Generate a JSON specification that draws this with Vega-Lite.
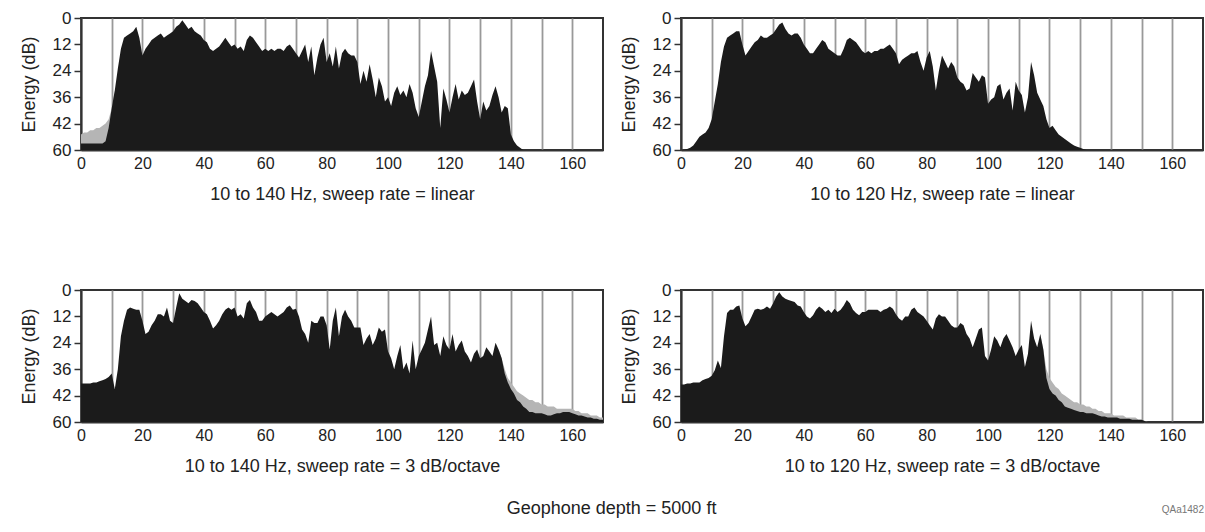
{
  "$schema": "https://vega.github.io/schema/vega-lite/v6.json",
  "background": "white",
  "padding": {"left": 19, "top": 8, "right": 0, "bottom": 0},
  "title": {"text": "QAa1482", "orient": "bottom", "anchor": "end", "fontSize": 10, "fontWeight": "normal", "color": "#777", "font": "Liberation Sans", "offset": -13},
  "config": {
    "font": "Liberation Sans",
    "view": {"stroke": "#333", "strokeWidth": 2},
    "axisX": {
      "ticks": false, "grid": true, "gridColor": "#999", "gridWidth": 1.8, "zindex": 1,
      "domainColor": "#333", "domainWidth": 2,
      "labelFontSize": 16, "labelColor": "#222", "labelPadding": 5, "labelFlush": false, "labelOverlap": false,
      "titleFontSize": 18, "titleFontWeight": "normal", "titleColor": "#222", "titlePadding": 14
    },
    "axisY": {
      "grid": false, "ticks": true, "tickSize": 7, "tickColor": "#333", "tickWidth": 1.5,
      "domainColor": "#333", "domainWidth": 2,
      "labelFontSize": 17, "labelColor": "#222", "labelPadding": 3, "labelFlush": false, "labelOverlap": false,
      "titleFontSize": 18, "titleFontWeight": "normal", "titleColor": "#222", "titlePadding": 14
    }
  },
  "datasets": {
    "p1": [{"f":0,"e":57},{"f":1,"e":57},{"f":2,"e":57},{"f":3,"e":57},{"f":4,"e":57},{"f":5,"e":57},{"f":6,"e":57},{"f":7,"e":57},{"f":8,"e":56},{"f":9,"e":50},{"f":10,"e":41},{"f":11,"e":33},{"f":12,"e":23},{"f":13,"e":14},{"f":14,"e":9},{"f":15,"e":8},{"f":16,"e":7},{"f":17,"e":6},{"f":18,"e":4},{"f":19,"e":9},{"f":20,"e":17},{"f":21,"e":14},{"f":22,"e":12},{"f":23,"e":10},{"f":24,"e":9},{"f":25,"e":8},{"f":26,"e":7},{"f":27,"e":9},{"f":28,"e":8},{"f":29,"e":7},{"f":30,"e":6},{"f":31,"e":4},{"f":32,"e":3},{"f":33,"e":1},{"f":34,"e":3},{"f":35,"e":5},{"f":36,"e":4},{"f":37,"e":6},{"f":38,"e":7},{"f":39,"e":8},{"f":40,"e":10},{"f":41,"e":11},{"f":42,"e":14},{"f":43,"e":15},{"f":44,"e":14},{"f":45,"e":13},{"f":46,"e":11},{"f":47,"e":9},{"f":48,"e":11},{"f":49,"e":13},{"f":50,"e":12},{"f":51,"e":14},{"f":52,"e":13},{"f":53,"e":15},{"f":54,"e":10},{"f":55,"e":8},{"f":56,"e":9},{"f":57,"e":11},{"f":58,"e":13},{"f":59,"e":15},{"f":60,"e":14},{"f":61,"e":15},{"f":62,"e":14},{"f":63,"e":15},{"f":64,"e":14},{"f":65,"e":14},{"f":66,"e":15},{"f":67,"e":13},{"f":68,"e":12},{"f":69,"e":14},{"f":70,"e":16},{"f":71,"e":18},{"f":72,"e":15},{"f":73,"e":12},{"f":74,"e":20},{"f":75,"e":13},{"f":76,"e":26},{"f":77,"e":18},{"f":78,"e":12},{"f":79,"e":9},{"f":80,"e":20},{"f":81,"e":16},{"f":82,"e":22},{"f":83,"e":13},{"f":84,"e":23},{"f":85,"e":16},{"f":86,"e":14},{"f":87,"e":16},{"f":88,"e":17},{"f":89,"e":17},{"f":90,"e":20},{"f":91,"e":30},{"f":92,"e":24},{"f":93,"e":29},{"f":94,"e":21},{"f":95,"e":28},{"f":96,"e":36},{"f":97,"e":27},{"f":98,"e":31},{"f":99,"e":38},{"f":100,"e":36},{"f":101,"e":40},{"f":102,"e":34},{"f":103,"e":31},{"f":104,"e":35},{"f":105,"e":33},{"f":106,"e":36},{"f":107,"e":30},{"f":108,"e":34},{"f":109,"e":41},{"f":110,"e":45},{"f":111,"e":38},{"f":112,"e":31},{"f":113,"e":26},{"f":114,"e":15},{"f":115,"e":22},{"f":116,"e":29},{"f":117,"e":50},{"f":118,"e":32},{"f":119,"e":37},{"f":120,"e":43},{"f":121,"e":36},{"f":122,"e":30},{"f":123,"e":37},{"f":124,"e":33},{"f":125,"e":35},{"f":126,"e":34},{"f":127,"e":31},{"f":128,"e":28},{"f":129,"e":38},{"f":130,"e":46},{"f":131,"e":38},{"f":132,"e":42},{"f":133,"e":40},{"f":134,"e":35},{"f":135,"e":31},{"f":136,"e":36},{"f":137,"e":43},{"f":138,"e":40},{"f":139,"e":41},{"f":140,"e":53},{"f":141,"e":56},{"f":142,"e":58},{"f":143,"e":59},{"f":144,"e":60},{"f":170,"e":60}],
    "p1g": [{"f":0,"e":53},{"f":1,"e":52},{"f":2,"e":52},{"f":3,"e":51},{"f":4,"e":51},{"f":5,"e":50},{"f":6,"e":50},{"f":7,"e":49},{"f":8,"e":48},{"f":9,"e":46},{"f":10,"e":41},{"f":11,"e":33}],
    "p2": [{"f":0,"e":60},{"f":1,"e":60},{"f":2,"e":59.5},{"f":3,"e":59},{"f":4,"e":58},{"f":5,"e":56},{"f":6,"e":54},{"f":7,"e":53},{"f":8,"e":52},{"f":9,"e":50},{"f":10,"e":46},{"f":11,"e":38},{"f":12,"e":30},{"f":13,"e":20},{"f":14,"e":13},{"f":15,"e":9},{"f":16,"e":8},{"f":17,"e":7},{"f":18,"e":6},{"f":19,"e":6},{"f":20,"e":12},{"f":21,"e":17},{"f":22,"e":15},{"f":23,"e":13},{"f":24,"e":11},{"f":25,"e":10},{"f":26,"e":8},{"f":27,"e":9},{"f":28,"e":9},{"f":29,"e":8},{"f":30,"e":7},{"f":31,"e":5},{"f":32,"e":3},{"f":33,"e":2},{"f":34,"e":5},{"f":35,"e":7},{"f":36,"e":8},{"f":37,"e":7},{"f":38,"e":7},{"f":39,"e":9},{"f":40,"e":12},{"f":41,"e":14},{"f":42,"e":16},{"f":43,"e":16},{"f":44,"e":14},{"f":45,"e":12},{"f":46,"e":10},{"f":47,"e":11},{"f":48,"e":14},{"f":49,"e":15},{"f":50,"e":16},{"f":51,"e":17},{"f":52,"e":17},{"f":53,"e":14},{"f":54,"e":10},{"f":55,"e":9},{"f":56,"e":10},{"f":57,"e":11},{"f":58,"e":13},{"f":59,"e":15},{"f":60,"e":16},{"f":61,"e":15},{"f":62,"e":16},{"f":63,"e":15},{"f":64,"e":15},{"f":65,"e":14},{"f":66,"e":14},{"f":67,"e":13},{"f":68,"e":12},{"f":69,"e":14},{"f":70,"e":16},{"f":71,"e":21},{"f":72,"e":19},{"f":73,"e":18},{"f":74,"e":17},{"f":75,"e":16},{"f":76,"e":16},{"f":77,"e":15},{"f":78,"e":20},{"f":79,"e":24},{"f":80,"e":18},{"f":81,"e":15},{"f":82,"e":22},{"f":83,"e":33},{"f":84,"e":24},{"f":85,"e":17},{"f":86,"e":20},{"f":87,"e":23},{"f":88,"e":20},{"f":89,"e":22},{"f":90,"e":27},{"f":91,"e":29},{"f":92,"e":30},{"f":93,"e":33},{"f":94,"e":32},{"f":95,"e":25},{"f":96,"e":27},{"f":97,"e":29},{"f":98,"e":26},{"f":99,"e":27},{"f":100,"e":39},{"f":101,"e":37},{"f":102,"e":36},{"f":103,"e":31},{"f":104,"e":30},{"f":105,"e":37},{"f":106,"e":34},{"f":107,"e":32},{"f":108,"e":42},{"f":109,"e":29},{"f":110,"e":33},{"f":111,"e":35},{"f":112,"e":43},{"f":113,"e":36},{"f":114,"e":20},{"f":115,"e":26},{"f":116,"e":34},{"f":117,"e":37},{"f":118,"e":40},{"f":119,"e":46},{"f":120,"e":50},{"f":121,"e":49},{"f":122,"e":51},{"f":123,"e":53},{"f":124,"e":54},{"f":125,"e":55},{"f":126,"e":56},{"f":127,"e":57},{"f":128,"e":58},{"f":129,"e":58.5},{"f":130,"e":59},{"f":131,"e":59.5},{"f":132,"e":60},{"f":170,"e":60}],
    "p3": [{"f":0,"e":42.5},{"f":1,"e":42.5},{"f":2,"e":42.5},{"f":3,"e":42.5},{"f":4,"e":42},{"f":5,"e":42},{"f":6,"e":41.5},{"f":7,"e":41},{"f":8,"e":40.5},{"f":9,"e":39.5},{"f":10,"e":38},{"f":11,"e":45},{"f":12,"e":36},{"f":13,"e":21},{"f":14,"e":14},{"f":15,"e":9},{"f":16,"e":8},{"f":17,"e":8.5},{"f":18,"e":9},{"f":19,"e":9},{"f":20,"e":14},{"f":21,"e":20},{"f":22,"e":19},{"f":23,"e":16},{"f":24,"e":14},{"f":25,"e":11},{"f":26,"e":11},{"f":27,"e":12},{"f":28,"e":8},{"f":29,"e":14},{"f":30,"e":15},{"f":31,"e":8},{"f":32,"e":1.5},{"f":33,"e":4},{"f":34,"e":5},{"f":35,"e":6},{"f":36,"e":4.5},{"f":37,"e":5},{"f":38,"e":6},{"f":39,"e":8},{"f":40,"e":10},{"f":41,"e":11},{"f":42,"e":14},{"f":43,"e":17.5},{"f":44,"e":16},{"f":45,"e":14},{"f":46,"e":11},{"f":47,"e":9},{"f":48,"e":8},{"f":49,"e":9},{"f":50,"e":8},{"f":51,"e":12},{"f":52,"e":11},{"f":53,"e":13},{"f":54,"e":6},{"f":55,"e":4.5},{"f":56,"e":8},{"f":57,"e":10},{"f":58,"e":14},{"f":59,"e":14},{"f":60,"e":12},{"f":61,"e":11},{"f":62,"e":10},{"f":63,"e":11},{"f":64,"e":12},{"f":65,"e":11},{"f":66,"e":10},{"f":67,"e":8},{"f":68,"e":7},{"f":69,"e":9},{"f":70,"e":8.5},{"f":71,"e":12},{"f":72,"e":18},{"f":73,"e":20},{"f":74,"e":24},{"f":75,"e":14},{"f":76,"e":15},{"f":77,"e":15},{"f":78,"e":12},{"f":79,"e":12},{"f":80,"e":16},{"f":81,"e":27},{"f":82,"e":14},{"f":83,"e":8},{"f":84,"e":21},{"f":85,"e":12},{"f":86,"e":9},{"f":87,"e":12},{"f":88,"e":14},{"f":89,"e":17},{"f":90,"e":17},{"f":91,"e":17},{"f":92,"e":25},{"f":93,"e":22},{"f":94,"e":20},{"f":95,"e":25},{"f":96,"e":22},{"f":97,"e":17},{"f":98,"e":19},{"f":99,"e":18},{"f":100,"e":28},{"f":101,"e":31},{"f":102,"e":36},{"f":103,"e":30},{"f":104,"e":25},{"f":105,"e":36},{"f":106,"e":33},{"f":107,"e":38},{"f":108,"e":23},{"f":109,"e":36},{"f":110,"e":30},{"f":111,"e":27},{"f":112,"e":24},{"f":113,"e":18},{"f":114,"e":12},{"f":115,"e":25},{"f":116,"e":24},{"f":117,"e":30},{"f":118,"e":21},{"f":119,"e":25},{"f":120,"e":27},{"f":121,"e":20},{"f":122,"e":28},{"f":123,"e":25},{"f":124,"e":23},{"f":125,"e":28},{"f":126,"e":30},{"f":127,"e":33},{"f":128,"e":29},{"f":129,"e":27},{"f":130,"e":31},{"f":131,"e":30},{"f":132,"e":26},{"f":133,"e":28},{"f":134,"e":30},{"f":135,"e":24},{"f":136,"e":27},{"f":137,"e":31},{"f":138,"e":38},{"f":139,"e":42},{"f":140,"e":45},{"f":141,"e":47},{"f":142,"e":50},{"f":143,"e":51},{"f":144,"e":53},{"f":145,"e":54},{"f":146,"e":55.5},{"f":147,"e":55.5},{"f":148,"e":56},{"f":149,"e":56},{"f":150,"e":56},{"f":151,"e":56.5},{"f":152,"e":57},{"f":153,"e":57},{"f":154,"e":56.5},{"f":155,"e":56},{"f":156,"e":56},{"f":157,"e":55.5},{"f":158,"e":55.5},{"f":159,"e":55.5},{"f":160,"e":56},{"f":161,"e":56.5},{"f":162,"e":57},{"f":163,"e":57},{"f":164,"e":57.5},{"f":165,"e":58},{"f":166,"e":58},{"f":167,"e":58.5},{"f":168,"e":58.5},{"f":169,"e":59},{"f":170,"e":59}],
    "p3g": [{"f":136,"e":27},{"f":137,"e":31},{"f":138,"e":36},{"f":139,"e":40},{"f":140,"e":42},{"f":141,"e":44},{"f":142,"e":46},{"f":143,"e":47},{"f":144,"e":48},{"f":145,"e":49},{"f":146,"e":50},{"f":147,"e":50},{"f":148,"e":51},{"f":149,"e":51},{"f":150,"e":52},{"f":151,"e":52},{"f":152,"e":53},{"f":153,"e":53},{"f":154,"e":53},{"f":155,"e":54},{"f":156,"e":54},{"f":157,"e":54},{"f":158,"e":54},{"f":159,"e":54},{"f":160,"e":54},{"f":161,"e":55},{"f":162,"e":55},{"f":163,"e":56},{"f":164,"e":56},{"f":165,"e":56},{"f":166,"e":57},{"f":167,"e":57},{"f":168,"e":57},{"f":169,"e":58},{"f":170,"e":58}],
    "p4": [{"f":0,"e":43},{"f":1,"e":43},{"f":2,"e":42.5},{"f":3,"e":42.5},{"f":4,"e":42},{"f":5,"e":42},{"f":6,"e":42},{"f":7,"e":41},{"f":8,"e":40.5},{"f":9,"e":40},{"f":10,"e":39},{"f":11,"e":36.5},{"f":12,"e":32},{"f":13,"e":35.5},{"f":14,"e":21},{"f":15,"e":10.5},{"f":16,"e":9},{"f":17,"e":9},{"f":18,"e":7.5},{"f":19,"e":7},{"f":20,"e":13},{"f":21,"e":16.5},{"f":22,"e":15},{"f":23,"e":12},{"f":24,"e":9},{"f":25,"e":8.5},{"f":26,"e":9},{"f":27,"e":8.5},{"f":28,"e":7.5},{"f":29,"e":8.5},{"f":30,"e":6},{"f":31,"e":3},{"f":32,"e":1},{"f":33,"e":3},{"f":34,"e":4},{"f":35,"e":4.5},{"f":36,"e":5},{"f":37,"e":5.5},{"f":38,"e":7},{"f":39,"e":7.5},{"f":40,"e":10},{"f":41,"e":12},{"f":42,"e":13},{"f":43,"e":11.5},{"f":44,"e":9},{"f":45,"e":7.5},{"f":46,"e":8.5},{"f":47,"e":10},{"f":48,"e":9},{"f":49,"e":10.5},{"f":50,"e":8.5},{"f":51,"e":10},{"f":52,"e":9},{"f":53,"e":7},{"f":54,"e":4.5},{"f":55,"e":6},{"f":56,"e":9},{"f":57,"e":10.5},{"f":58,"e":11.5},{"f":59,"e":10},{"f":60,"e":10},{"f":61,"e":9},{"f":62,"e":9},{"f":63,"e":9},{"f":64,"e":9},{"f":65,"e":10},{"f":66,"e":9},{"f":67,"e":8.5},{"f":68,"e":7.5},{"f":69,"e":8.5},{"f":70,"e":11},{"f":71,"e":13},{"f":72,"e":14},{"f":73,"e":12},{"f":74,"e":12},{"f":75,"e":9},{"f":76,"e":8},{"f":77,"e":10},{"f":78,"e":11},{"f":79,"e":12},{"f":80,"e":14},{"f":81,"e":16},{"f":82,"e":18},{"f":83,"e":13},{"f":84,"e":11},{"f":85,"e":12},{"f":86,"e":12},{"f":87,"e":14},{"f":88,"e":16},{"f":89,"e":17},{"f":90,"e":17},{"f":91,"e":15},{"f":92,"e":16},{"f":93,"e":20},{"f":94,"e":22},{"f":95,"e":26},{"f":96,"e":22},{"f":97,"e":18},{"f":98,"e":17},{"f":99,"e":30},{"f":100,"e":32},{"f":101,"e":27},{"f":102,"e":21},{"f":103,"e":23},{"f":104,"e":26},{"f":105,"e":22},{"f":106,"e":20},{"f":107,"e":23},{"f":108,"e":26},{"f":109,"e":30},{"f":110,"e":27},{"f":111,"e":25},{"f":112,"e":35},{"f":113,"e":29},{"f":114,"e":14},{"f":115,"e":22},{"f":116,"e":26},{"f":117,"e":20},{"f":118,"e":27},{"f":119,"e":40},{"f":120,"e":45},{"f":121,"e":47},{"f":122,"e":48},{"f":123,"e":50},{"f":124,"e":51},{"f":125,"e":53},{"f":126,"e":53.5},{"f":127,"e":54},{"f":128,"e":54.5},{"f":129,"e":55},{"f":130,"e":55.5},{"f":131,"e":55.5},{"f":132,"e":56},{"f":133,"e":56},{"f":134,"e":56},{"f":135,"e":56.5},{"f":136,"e":57},{"f":137,"e":57.5},{"f":138,"e":57.5},{"f":139,"e":58},{"f":140,"e":58},{"f":141,"e":58},{"f":142,"e":58},{"f":143,"e":58.5},{"f":144,"e":58.5},{"f":145,"e":58.5},{"f":146,"e":58.5},{"f":147,"e":59},{"f":148,"e":59},{"f":149,"e":59},{"f":150,"e":59},{"f":151,"e":59.5},{"f":152,"e":60},{"f":170,"e":60}],
    "p4g": [{"f":117,"e":20},{"f":118,"e":27},{"f":119,"e":36},{"f":120,"e":40},{"f":121,"e":42},{"f":122,"e":44},{"f":123,"e":45},{"f":124,"e":47},{"f":125,"e":48},{"f":126,"e":49},{"f":127,"e":50},{"f":128,"e":51},{"f":129,"e":51},{"f":130,"e":52},{"f":131,"e":52},{"f":132,"e":53},{"f":133,"e":53},{"f":134,"e":54},{"f":135,"e":54},{"f":136,"e":55},{"f":137,"e":55},{"f":138,"e":56},{"f":139,"e":56},{"f":140,"e":56},{"f":141,"e":57},{"f":142,"e":57},{"f":143,"e":57},{"f":144,"e":57},{"f":145,"e":58},{"f":146,"e":58},{"f":147,"e":58},{"f":148,"e":58},{"f":149,"e":59},{"f":150,"e":59},{"f":151,"e":59.5},{"f":152,"e":60}]
  },
  "vconcat": [
    {
      "title": {"text": "Geophone depth = 5000 ft", "orient": "bottom", "anchor": "middle", "fontSize": 18, "fontWeight": "normal", "color": "#222", "offset": 24},
      "spacing": 76,
      "vconcat": [
        {
          "spacing": 15,
          "hconcat": [
            {
              "width": 522, "height": 132,
              "layer": [
                {"data": {"name": "p1g"}, "mark": {"type": "area", "color": "#b5b5b5"},
                 "encoding": {"x": {"field": "f", "type": "quantitative", "scale": {"domain": [0, 170]}, "axis": {"title": "10 to 140 Hz, sweep rate = linear", "values": [0, 10, 20, 30, 40, 50, 60, 70, 80, 90, 100, 110, 120, 130, 140, 150, 160], "labelExpr": "datum.value % 20 == 0 ? datum.label : ''"}},
                              "y": {"field": "e", "type": "quantitative", "scale": {"domain": [0, 60], "reverse": true}, "axis": {"title": "Energy (dB)", "values": [0, 12, 24, 36, 48, 60], "labelExpr": "datum.value == 48 ? '42' : datum.label"}},
                              "y2": {"datum": 60}}},
                {"data": {"name": "p1"}, "mark": {"type": "area", "color": "#1b1b1b"},
                 "encoding": {"x": {"field": "f", "type": "quantitative", "scale": {"domain": [0, 170]}, "axis": {"title": "10 to 140 Hz, sweep rate = linear", "values": [0, 10, 20, 30, 40, 50, 60, 70, 80, 90, 100, 110, 120, 130, 140, 150, 160], "labelExpr": "datum.value % 20 == 0 ? datum.label : ''"}},
                              "y": {"field": "e", "type": "quantitative", "scale": {"domain": [0, 60], "reverse": true}, "axis": {"title": "Energy (dB)", "values": [0, 12, 24, 36, 48, 60], "labelExpr": "datum.value == 48 ? '42' : datum.label"}},
                              "y2": {"datum": 60}}}
              ]
            },
            {
              "width": 522, "height": 132,
              "layer": [
                {"data": {"name": "p2"}, "mark": {"type": "area", "color": "#1b1b1b"},
                 "encoding": {"x": {"field": "f", "type": "quantitative", "scale": {"domain": [0, 170]}, "axis": {"title": "10 to 120 Hz, sweep rate = linear", "values": [0, 10, 20, 30, 40, 50, 60, 70, 80, 90, 100, 110, 120, 130, 140, 150, 160], "labelExpr": "datum.value % 20 == 0 ? datum.label : ''"}},
                              "y": {"field": "e", "type": "quantitative", "scale": {"domain": [0, 60], "reverse": true}, "axis": {"title": "Energy (dB)", "values": [0, 12, 24, 36, 48, 60], "labelExpr": "datum.value == 48 ? '42' : datum.label"}},
                              "y2": {"datum": 60}}}
              ]
            }
          ]
        },
        {
          "spacing": 15,
          "hconcat": [
            {
              "width": 522, "height": 132,
              "layer": [
                {"data": {"name": "p3g"}, "mark": {"type": "area", "color": "#b5b5b5"},
                 "encoding": {"x": {"field": "f", "type": "quantitative", "scale": {"domain": [0, 170]}, "axis": {"title": "10 to 140 Hz, sweep rate = 3 dB/octave", "values": [0, 10, 20, 30, 40, 50, 60, 70, 80, 90, 100, 110, 120, 130, 140, 150, 160], "labelExpr": "datum.value % 20 == 0 ? datum.label : ''"}},
                              "y": {"field": "e", "type": "quantitative", "scale": {"domain": [0, 60], "reverse": true}, "axis": {"title": "Energy (dB)", "values": [0, 12, 24, 36, 48, 60], "labelExpr": "datum.value == 48 ? '42' : datum.label"}},
                              "y2": {"datum": 60}}},
                {"data": {"name": "p3"}, "mark": {"type": "area", "color": "#1b1b1b"},
                 "encoding": {"x": {"field": "f", "type": "quantitative", "scale": {"domain": [0, 170]}, "axis": {"title": "10 to 140 Hz, sweep rate = 3 dB/octave", "values": [0, 10, 20, 30, 40, 50, 60, 70, 80, 90, 100, 110, 120, 130, 140, 150, 160], "labelExpr": "datum.value % 20 == 0 ? datum.label : ''"}},
                              "y": {"field": "e", "type": "quantitative", "scale": {"domain": [0, 60], "reverse": true}, "axis": {"title": "Energy (dB)", "values": [0, 12, 24, 36, 48, 60], "labelExpr": "datum.value == 48 ? '42' : datum.label"}},
                              "y2": {"datum": 60}}}
              ]
            },
            {
              "width": 522, "height": 132,
              "layer": [
                {"data": {"name": "p4g"}, "mark": {"type": "area", "color": "#b5b5b5"},
                 "encoding": {"x": {"field": "f", "type": "quantitative", "scale": {"domain": [0, 170]}, "axis": {"title": "10 to 120 Hz, sweep rate = 3 dB/octave", "values": [0, 10, 20, 30, 40, 50, 60, 70, 80, 90, 100, 110, 120, 130, 140, 150, 160], "labelExpr": "datum.value % 20 == 0 ? datum.label : ''"}},
                              "y": {"field": "e", "type": "quantitative", "scale": {"domain": [0, 60], "reverse": true}, "axis": {"title": "Energy (dB)", "values": [0, 12, 24, 36, 48, 60], "labelExpr": "datum.value == 48 ? '42' : datum.label"}},
                              "y2": {"datum": 60}}},
                {"data": {"name": "p4"}, "mark": {"type": "area", "color": "#1b1b1b"},
                 "encoding": {"x": {"field": "f", "type": "quantitative", "scale": {"domain": [0, 170]}, "axis": {"title": "10 to 120 Hz, sweep rate = 3 dB/octave", "values": [0, 10, 20, 30, 40, 50, 60, 70, 80, 90, 100, 110, 120, 130, 140, 150, 160], "labelExpr": "datum.value % 20 == 0 ? datum.label : ''"}},
                              "y": {"field": "e", "type": "quantitative", "scale": {"domain": [0, 60], "reverse": true}, "axis": {"title": "Energy (dB)", "values": [0, 12, 24, 36, 48, 60], "labelExpr": "datum.value == 48 ? '42' : datum.label"}},
                              "y2": {"datum": 60}}}
              ]
            }
          ]
        }
      ]
    }
  ]
}
